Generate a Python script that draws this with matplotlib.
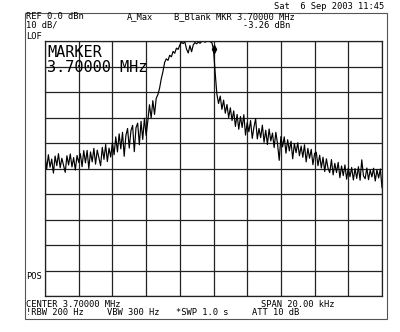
import numpy as np
import matplotlib
matplotlib.use("Agg")
import matplotlib.pyplot as plt
from matplotlib.patches import Rectangle

# ---- data ----
span_khz = 20.0
n_points = 201
ref_dbm = 0.0
db_per_div = 10
marker_khz = 0.0
marker_dbm = -3.26

trace_dbm = [
    # -10.0 .. -8.0
    -45.0, -50.2, -44.6, -49.5, -46.3, -51.8, -45.1, -48.9, -44.2, -49.7,
    -46.0, -48.8, -51.5, -45.0, -48.6, -44.3, -49.4, -45.7, -50.6, -44.9, -47.6,
    # -7.9 .. -6.0
    -44.2, -49.3, -43.0, -47.8, -42.9, -50.0, -43.5, -47.4, -42.1, -48.3,
    -42.8, -45.9, -48.9, -41.7, -46.4, -40.6, -47.3, -42.0, -45.5, -39.8,
    # -5.9 .. -4.0
    -44.6, -37.6, -43.5, -36.4, -42.3, -35.8, -45.2, -37.1, -34.3, -42.0,
    -35.2, -33.1, -43.4, -34.0, -32.2, -40.7, -31.5, -38.6, -30.3, -37.0,
    # -3.9 .. -2.0
    -31.5, -25.0, -30.2, -23.4, -28.8, -22.5, -21.0, -18.5, -14.8, -12.0,
    -8.4, -7.0, -7.6, -5.6, -6.2, -4.1, -4.8, -2.8, -3.3, -1.6,
    # -1.9 .. 0.0
    -0.5, -1.0, -0.3, -3.2, -4.7, -1.8, -4.2, -1.5, -0.6, -1.1,
    -0.4, -0.9, -0.2, 0.0, -0.5, -0.1, 0.0, -0.3, -0.6, -3.26,
    # 0.1 .. 2.0
    -12.5, -20.8, -24.5, -21.6, -26.8, -23.2, -28.3, -24.9, -30.0, -26.2,
    -31.2, -27.4, -33.5, -28.8, -34.6, -29.6, -33.9, -28.9, -36.9, -32.0,
    # 2.1 .. 4.0
    -35.6, -31.2, -38.2, -33.8, -30.5, -38.4, -34.3, -37.9, -33.0, -39.7,
    -35.0, -40.6, -34.5, -39.2, -36.1, -41.8, -35.8, -40.3, -46.8, -37.5,
    # 4.1 .. 6.0
    -41.5, -37.6, -44.0, -38.7, -43.1, -39.3, -46.2, -40.2, -43.8, -39.9,
    -45.0, -41.2, -45.6, -40.7, -47.4, -42.1, -46.0, -42.5, -48.5, -44.1,
    # 6.1 .. 8.0
    -43.6, -48.9, -44.8, -49.8, -45.6, -51.2, -46.2, -50.0, -51.6, -46.5,
    -52.5, -48.0, -51.6, -47.6, -53.6, -49.0, -52.8, -48.6, -54.2, -49.8,
    # 8.1 .. 10.0
    -53.2, -49.6, -54.5, -50.0, -53.9, -49.3, -54.6, -46.6, -52.9, -54.0,
    -49.8, -54.4, -50.6, -53.3, -49.9, -54.9, -50.5, -53.7, -50.2, -57.5,
]

header_left = ["REF 0.0 dBn", "10 dB/", "LOF"]
header_mid = ["A_Max", "B_Blank MKR 3.70000 MHz", "-3.26 dBn"]
date_text = "Sat  6 Sep 2003 11:45"
marker_lines = ["MARKER", "3.70000 MHz"]
footer = ["CENTER 3.70000 MHz", "SPAN 20.00 kHz", "!RBW 200 Hz", "VBW 300 Hz",
          "*SWP 1.0 s", "ATT 10 dB"]

# ---- figure ----
W, H = 400, 332
fig = plt.figure(figsize=(W / 100, H / 100), dpi=100)
fig.patch.set_facecolor("white")


def fx(px):
    return px / W


def fy(py):
    return 1 - py / H


ax = fig.add_axes([fx(45), fy(296), (382 - 45) / W, (296 - 41) / H])
freq = np.linspace(-span_khz / 2, span_khz / 2, n_points)
ax.plot(freq, trace_dbm, color="black", lw=0.85)
ax.plot([marker_khz], [marker_dbm], marker="d", color="black", ms=4, ls="none")
ax.set_xlim(-span_khz / 2, span_khz / 2)
ax.set_ylim(ref_dbm - 10 * db_per_div, ref_dbm)
ax.set_xticks(np.linspace(-span_khz / 2, span_khz / 2, 11))
ax.set_yticks(np.linspace(ref_dbm - 10 * db_per_div, ref_dbm, 11))
ax.grid(True, color="#222222", lw=0.9)
ax.tick_params(length=0, labelbottom=False, labelleft=False)
for s in ax.spines.values():
    s.set_color("#222222")
    s.set_linewidth(0.9)

mono = "DejaVu Sans Mono"
fs = 6.3
# outer frame
fig.patches.append(Rectangle((fx(25), fy(319)), (387 - 25) / W, (319 - 13) / H,
                             transform=fig.transFigure, fill=False,
                             ec="#555555", lw=0.8))

fig.text(fx(26), fy(19), header_left[0], family=mono, fontsize=fs, va="baseline")
fig.text(fx(26), fy(28), header_left[1], family=mono, fontsize=fs, va="baseline")
fig.text(fx(26), fy(39), header_left[2], family=mono, fontsize=fs, va="baseline")
fig.text(fx(127), fy(19), header_mid[0], family=mono, fontsize=fs, va="baseline")
fig.text(fx(174), fy(19), header_mid[1], family=mono, fontsize=fs, va="baseline")
fig.text(fx(243), fy(28), header_mid[2], family=mono, fontsize=fs, va="baseline")
fig.text(fx(384), fy(9), date_text, family=mono, fontsize=fs, va="baseline",
         ha="right")

fig.text(fx(47), fy(57), marker_lines[0], family=mono, fontsize=11, va="baseline")
fig.text(fx(47), fy(72), marker_lines[1], family=mono, fontsize=11, va="baseline")

fig.text(fx(26), fy(279), "POS", family=mono, fontsize=fs, va="baseline")
fig.text(fx(26), fy(307), footer[0], family=mono, fontsize=fs, va="baseline")
fig.text(fx(261), fy(307), footer[1], family=mono, fontsize=fs, va="baseline")
fig.text(fx(26), fy(315), footer[2], family=mono, fontsize=fs, va="baseline")
fig.text(fx(107), fy(315), footer[3], family=mono, fontsize=fs, va="baseline")
fig.text(fx(176), fy(315), footer[4], family=mono, fontsize=fs, va="baseline")
fig.text(fx(252), fy(315), footer[5], family=mono, fontsize=fs, va="baseline")

fig.savefig("out.png", dpi=100, facecolor="white")
